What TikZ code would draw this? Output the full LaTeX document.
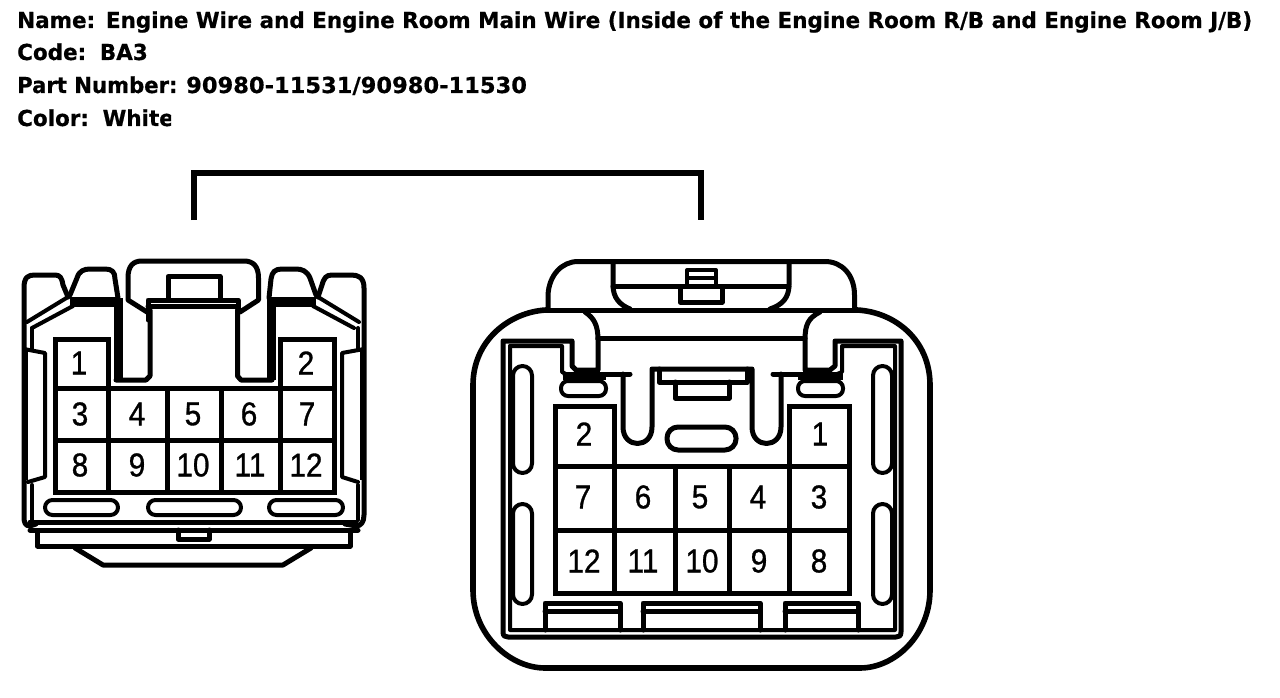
\documentclass[tikz,border=0pt]{standalone}
\usepackage{fontspec}
\setmainfont[BoldFont={DejaVu Sans Bold},BoldFeatures={FakeBold=0.6}]{DejaVu Sans}
\newfontfamily\lab[FakeBold=1]{Liberation Sans}
\tikzset{
  x=1pt,y=-1pt,
  ln/.style={line width=5pt,line join=round,line cap=round,draw=black},
  thn/.style={line width=4pt,line join=round,line cap=round,draw=black},
  gridln/.style={line width=5pt,line join=miter,draw=black},
  num/.style={font=\lab\fontsize{33}{33}\selectfont,inner sep=0pt,text=black,transform shape,xscale=0.9},
  hdr/.style={anchor=base west,inner sep=0pt,font=\bfseries\fontsize{22}{22}\selectfont,text=black,transform shape,xscale=0.976}
}
\begin{document}
\begin{tikzpicture}
\useasboundingbox (0,0) rectangle (1280,698);
\fill[white] (0,0) rectangle (1280,698);
% header
\node[hdr] (h1) at (17,28) {Name:\hspace{11pt}Engine Wire and Engine Room Main Wire (Inside of the Engine Room R/B and Engine Room J/B)};
\node[hdr] (h2) at (17,60) {Code:\hspace{14pt}BA3};
\node[hdr,xscale=0.985] (h3) at (17,93) {Part Number:};
\node[hdr,xscale=1.05] (h3b) at (186,93) {90980-11531/90980-11530};
\begin{scope}
\clip (0,100) rectangle (171,135);
\node[hdr] (h4) at (17,126) {Color:\hspace{14pt}White};
\end{scope}
% bracket
\coordinate (bl) at (194,220);
\coordinate (br) at (701,220);
\draw[line width=6pt,line join=miter] (bl) -- (194,173) -- (701,173) -- (br);
% ---------- left connector
% outer body
\draw[ln] (36,524) -- (30,526) .. controls (25,526) and (24,522) .. (24,517) -- (24,288) .. controls (24,277) and (28,275) .. (35,275) -- (55,275) .. controls (60,275) and (62,278) .. (63,285) -- (68,297);
\draw[ln] (70,295) -- (77,278) .. controls (79,271) and (84,269) .. (90,269) -- (105,269) .. controls (112,269) and (115,272) .. (115,279) -- (118,298);
\draw[ln] (345,524) -- (356,526) .. controls (361,526) and (364,522) .. (364,515) -- (364,288) .. controls (364,277) and (358,275) .. (351,275) -- (332,275) .. controls (326,275) and (324,278) .. (322,285) -- (318,297);
\draw[ln] (316,295) -- (310,278) .. controls (307,271) and (302,269) .. (296,269) -- (282,269) .. controls (275,269) and (272,272) .. (271,279) -- (269,298);
% shoulders
\draw[thn] (27,322) -- (68,297);
\draw[thn] (32,328) -- (73,306);
\draw[thn] (359,322) -- (318,297);
\draw[thn] (354,328) -- (313,306);
\draw[line width=10pt] (70,302) -- (118,302);
\draw[line width=10pt] (271,302) -- (316,302);
\draw[thn] (32,328) -- (32,350);
\draw[thn] (32,485) -- (32,520);
\draw[thn] (358,328) -- (358,350);
\draw[thn] (358,485) -- (358,520);
% top latch
\draw[ln] (147,312) -- (128,300) -- (128,278) .. controls (128,266) and (133,261) .. (142,261) -- (244,261) .. controls (253,261) and (258.5,266) .. (258.5,278) -- (258.5,300) -- (240,312);
\draw[ln] (168,300) -- (168,276.5) -- (220,276.5) -- (220,300);
\draw[ln] (148,320) -- (148,300) -- (238,300) -- (238,312);
\draw[ln] (148,306) -- (238,306);
% channels
\draw[line width=9pt,line join=round] (118,298) -- (118,380);
\draw[ln] (116,380) -- (146,380) -- (150,376) -- (150,310);
\draw[line width=9pt,line join=round] (271.5,298) -- (271.5,380);
\draw[ln] (272,380) -- (241,380) -- (237.5,376) -- (237.5,310);
% side panels
\draw[thn] (24,349) -- (45,353) -- (45,477) -- (28,482);
\draw[thn] (364,349) -- (342,353) -- (342,477) -- (358,482);
\draw[line width=6pt] (25,350) -- (25,480);
\draw[line width=6pt] (363,350) -- (363,480);
% grid
\draw[gridln] (55,388) -- (55,339) -- (108,339) -- (108,388);
\draw[gridln] (280,388) -- (280,339) -- (334,339) -- (334,388);
\draw[gridln] (55,388) rectangle (334,492);
\draw[gridln] (55,440) -- (334,440);
\foreach \xx in {108,167,221,280}{\draw[gridln] (\xx,388) -- (\xx,492);}
\foreach \t/\xx/\yy/\nm in {1/79/363/a,2/306/363/b,3/80/414/c,4/137/414/d,5/193/414/e,6/249/414/f,7/307/414/g,8/80/465/h,9/137/465/i,10/193/465/j,11/250/465/k,12/306/465/l}{
  \node[num] (L\nm) at (\xx,\yy) {\t};
}
% slots
\draw[thn,rounded corners=7.5pt] (45,500) rectangle (118,515);
\draw[thn,rounded corners=7.5pt] (148,500) rectangle (241,515);
\draw[thn,rounded corners=7.5pt] (269,500) rectangle (343,515);
% bottom plate
\draw[ln] (30,522) -- (356,522);
\draw[ln] (37.5,532) -- (37.5,546) -- (350,546) -- (350,532);
\draw[ln] (30,530) -- (358,530);
\draw[ln] (178,530) -- (178,539) -- (209,539) -- (209,530);
\draw[ln] (75,548) -- (103,565) -- (283,565) -- (311,548);
% ---------- right connector
% outer
\draw[line width=5.6pt,line join=round]
  (546,310) .. controls (510,312) and (473,340) .. (473,385)
  -- (473,590) .. controls (473,635) and (510,668) .. (545,668)
  -- (860,668) .. controls (895,668) and (930,635) .. (930,590)
  -- (930,385) .. controls (930,340) and (895,312) .. (857,310);
\draw[ln] (546,310) -- (857,310);
\draw[ln] (548,310) -- (548,295) .. controls (549,275) and (562,261.5) .. (578,261.5) -- (825,261.5) .. controls (842,261.5) and (854.5,275) .. (854.5,295) -- (854.5,310);
% latch
\draw[ln] (613,263) -- (613,285) .. controls (613,298) and (620,305) .. (630,309);
\draw[ln] (789,263) -- (789,285) .. controls (789,298) and (782,305) .. (770,309);
\draw[ln] (613,286) -- (789,286);
\draw[thn] (687,286) -- (687,270) -- (716,270) -- (716,286);
\draw[thn] (687,278) -- (716,278);
\draw[ln] (680,288) -- (680,302) -- (722,302) -- (722,288);
% arches
\draw[ln] (585,312) .. controls (594,318) and (598,325) .. (598,340) -- (598,370) -- (576,370) -- (572,366) -- (572,341) -- (503,341) -- (503,632) .. controls (503,636) and (505,637) .. (508,637) -- (896,637) .. controls (899,637) and (901,636) .. (901,632) -- (901,341) -- (835,341) -- (835,366) -- (830,370) -- (805,370) -- (805,340) .. controls (805,325) and (808,318) .. (820,312);
\draw[ln] (598,338) -- (805,338);
\draw[thn] (510,346) -- (510,630) -- (895,630) -- (895,346) -- (842,346) -- (842,372) -- (832,376);
\draw[thn] (510,346) -- (562,346) -- (562,372) -- (570,376);
% bar with channels
\draw[ln] (565,374) -- (630,374);
\draw[ln] (773,374) -- (838,374);
\draw[line width=6pt] (563,377) -- (606,377);
\draw[line width=6pt] (798,377) -- (843,377);
\draw[ln] (623,374) -- (623,427) .. controls (623,449) and (652,449) .. (652,427) -- (652,369) -- (752,369) -- (752,427) .. controls (752,449) and (781,449) .. (781,427) -- (781,374);
\draw[ln] (659,369) -- (659,382) -- (747,382) -- (747,369);
\draw[ln] (675,382) -- (675,398) -- (729,398) -- (729,382);
% ovals
\draw[thn,rounded corners=7pt] (561,381) rectangle (606,396);
\draw[thn,rounded corners=7pt] (798,381) rectangle (843,396);
\draw[ln,rounded corners=11pt] (667,427) rectangle (736,450);
% long slots
\draw[thn,rounded corners=9.5pt] (513,366) rectangle (532,473);
\draw[thn,rounded corners=9.5pt] (513,504) rectangle (532,604);
\draw[thn,rounded corners=9.5pt] (873,366) rectangle (892,473);
\draw[thn,rounded corners=9.5pt] (873,504) rectangle (892,604);
% grid
\draw[gridln] (555,466) -- (555,406) -- (614,406) -- (614,466);
\draw[gridln] (789,466) -- (789,406) -- (849,406) -- (849,466);
\draw[gridln] (555,466) rectangle (849,593);
\draw[gridln] (555,530) -- (849,530);
\foreach \xx in {614,675,729,789}{\draw[gridln] (\xx,466) -- (\xx,593);}
\foreach \t/\xx/\yy/\nm in {2/584/434/a,1/820/434/b,7/583/497/c,6/643/497/d,5/700/497/e,4/758/497/f,3/819/497/g,12/584/561/h,11/643/561/i,10/702/561/j,9/759/561/k,8/819/561/l}{
  \node[num] (R\nm) at (\xx,\yy) {\t};
}
% tabs
\draw[ln] (545,630) -- (545,603) -- (620,603) -- (620,630);
\draw[ln] (545,611) -- (620,611);
\draw[ln] (643,630) -- (643,603) -- (760,603) -- (760,630);
\draw[ln] (643,611) -- (760,611);
\draw[ln] (785,630) -- (785,603) -- (858,603) -- (858,630);
\draw[ln] (785,611) -- (858,611);
\end{tikzpicture}
\end{document}
